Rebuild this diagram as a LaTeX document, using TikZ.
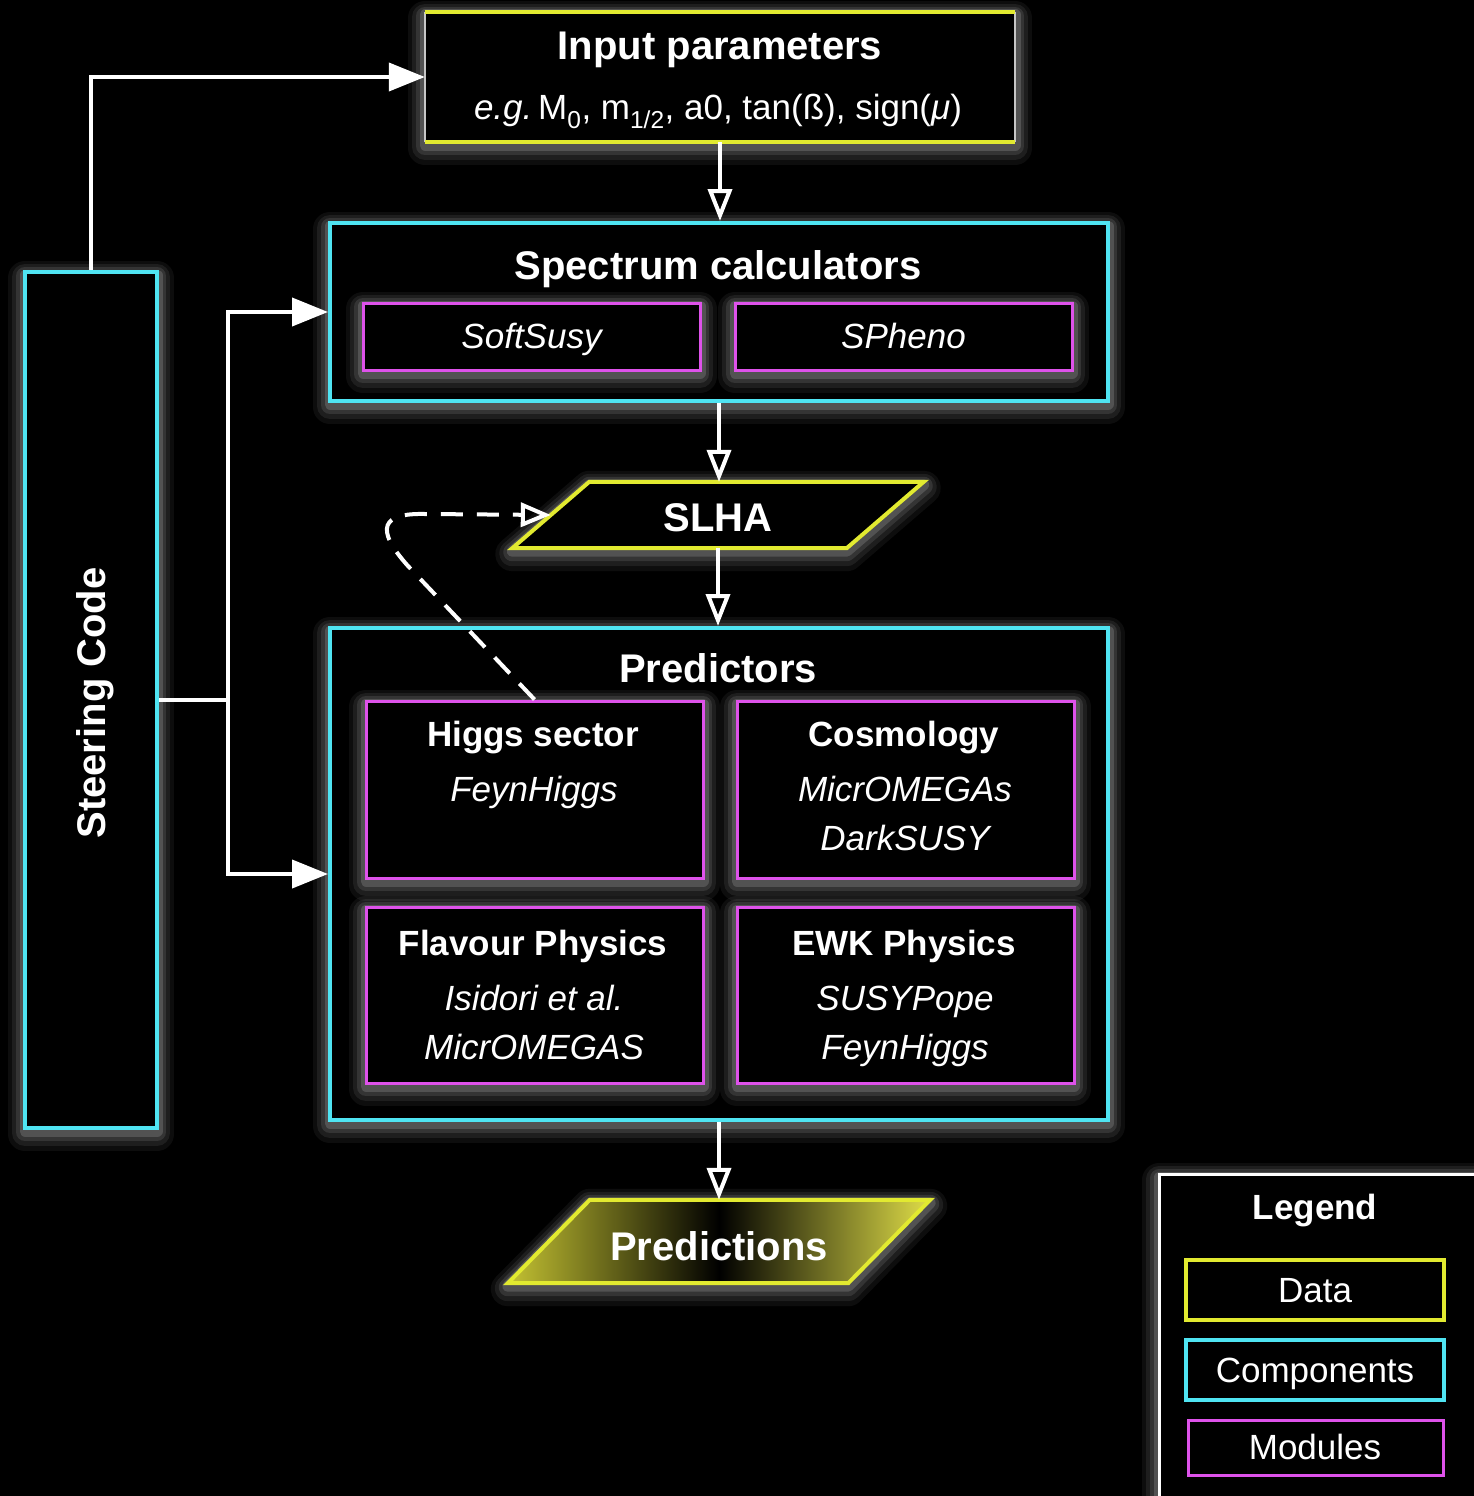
\documentclass[tikz,border=0pt]{standalone}
\usepackage{fontspec}
\setmainfont{Liberation Sans}
\usetikzlibrary{arrows.meta,calc}
\definecolor{yc}{HTML}{E2EA30}
\definecolor{cc}{HTML}{4FE4F2}
\definecolor{mc}{HTML}{DE52EA}
\definecolor{pyelL}{HTML}{C4C232}
\definecolor{pyelR}{HTML}{E0DE48}
\pgfdeclarehorizontalshading{predsh}{100bp}{color(0bp)=(pyelL); color(25bp)=(pyelL); color(50bp)=(black); color(75bp)=(pyelR); color(100bp)=(pyelR)}
\tikzset{
  glow/.style={preaction={draw=white,opacity=0.05,line width=34pt,line join=round,transform canvas={yshift=-6pt}},
               preaction={draw=white,opacity=0.07,line width=26pt,line join=round,transform canvas={yshift=-5pt}},
               preaction={draw=white,opacity=0.10,line width=18pt,line join=round,transform canvas={yshift=-4pt}},
               preaction={draw=white,opacity=0.15,line width=11pt,line join=round,transform canvas={yshift=-3pt}}},
  compbox/.style={glow, draw=cc, line width=4pt, fill=black, inner sep=0pt, rectangle},
  modbox/.style={glow, draw=mc, line width=3pt, fill=black, inner sep=0pt, rectangle},
  plainbox/.style={inner sep=0pt, rectangle},
  ttl/.style={text=white, font=\fontsize{40}{48}\selectfont\bfseries, inner sep=0pt, text height=28.6pt, text depth=0pt},
  mttl/.style={text=white, font=\fontsize{35}{42}\selectfont\bfseries, inner sep=0pt, text height=25pt, text depth=0pt},
  lbl/.style={text=white, font=\fontsize{35}{42}\selectfont, inner sep=0pt, text height=25pt, text depth=0pt},
  ilbl/.style={lbl, font=\fontsize{35}{42}\selectfont\itshape},
  flow/.style={draw=white, line width=4pt, -{Triangle[open, length=32pt, width=24pt]}},
  steer/.style={draw=white, line width=4pt, -{Triangle[length=36pt, width=28pt]}},
  wline/.style={draw=white, line width=4pt},
}
\begin{document}
\begin{tikzpicture}[x=1pt, y={(0pt,-1pt)}]
\fill[black] (0,0) rectangle (1474,1496);
\useasboundingbox (0,0) rectangle (1474,1496);
\clip (0,0) rectangle (1474,1496);

% Input parameters
\node[plainbox, glow, fill=black, minimum width=590pt, minimum height=130pt] (in) at (720,77) {};
\draw[gray!45, line width=2pt] (in.north west) -- (in.south west) (in.north east) -- (in.south east);
\draw[yc, line width=4pt] (in.north west) -- (in.north east) (in.south west) -- (in.south east);
\node[ttl] (inT) at (720,45) {Input parameters};
\node[lbl] (inL) at (718,107) {\textit{e.g.}\,M\textsubscript{0}, m\textsubscript{1/2}, a0, tan(ß), sign(\textit{μ})};

% Spectrum calculators
\node[compbox, minimum width=778pt, minimum height=178pt] (spec) at (719,312) {};
\node[ttl] (specT) at (718,265) {Spectrum calculators};
\node[modbox, minimum width=337pt, minimum height=67pt] (soft) at (531.5,336.5) {};
\node[ilbl] (softT) at (531.5,336) {SoftSusy};
\node[modbox, minimum width=337pt, minimum height=67pt] (sph) at (903.5,336.5) {};
\node[ilbl] (sphT) at (903.5,336) {SPheno};

% SLHA
\node[plainbox, minimum width=334pt, minimum height=66pt] (slha) at (718,515) {};
\path[glow, draw=yc, line width=4pt, fill=black]
  ($(slha.south west)+(-38.5,0)$) -- ($(slha.north west)+(38.5,0)$) --
  ($(slha.north east)+(38.5,0)$) -- ($(slha.south east)+(-38.5,0)$) -- cycle;
\node[ttl] (slhaT) at (718,517) {SLHA};

% Predictors
\node[compbox, minimum width=778pt, minimum height=492pt] (pred) at (719,874) {};
\node[ttl] (predT) at (718,668) {Predictors};
\node[modbox, minimum width=337pt, minimum height=177pt] (hig) at (534.5,789.5) {};
\node[modbox, minimum width=337pt, minimum height=177pt] (cos) at (905.5,789.5) {};
\node[modbox, minimum width=337pt, minimum height=176pt] (fla) at (534.5,995) {};
\node[modbox, minimum width=337pt, minimum height=176pt] (ewk) at (905.5,995) {};
\node[mttl] (higT) at (533,734) {Higgs sector};
\node[ilbl] (higA) at (534,789) {FeynHiggs};
\node[mttl] (cosT) at (904,734) {Cosmology};
\node[ilbl] (cosA) at (905,789) {MicrOMEGAs};
\node[ilbl] (cosB) at (905,838) {DarkSUSY};
\node[mttl] (flaT) at (533,943) {Flavour Physics};
\node[ilbl] (flaA) at (534,998) {Isidori et al.};
\node[ilbl] (flaB) at (534,1047) {MicrOMEGAS};
\node[mttl] (ewkT) at (904,943) {EWK Physics};
\node[ilbl] (ewkA) at (905,998) {SUSYPope};
\node[ilbl] (ewkB) at (905,1047) {FeynHiggs};

% Predictions
\node[plainbox, minimum width=340pt, minimum height=83pt] (out) at (719,1241.5) {};
\path[glow, draw=yc, line width=4pt, shading=predsh]
  ($(out.south west)+(-41,0)$) -- ($(out.north west)+(41,0)$) --
  ($(out.north east)+(41,0)$) -- ($(out.south east)+(-41,0)$) -- cycle;
\node[ttl] (outT) at (719,1246) {Predictions};

% Steering code
\node[compbox, minimum width=132pt, minimum height=856pt] (st) at (91,700) {};
\node[ttl, rotate=90] (stT) at (91,703) {Steering Code};

% Legend
\node[plainbox, glow, fill=black, draw=white, line width=2.5pt, minimum width=340pt, minimum height=340pt, anchor=north west] (leg) at (1158,1173) {};
\node[mttl] (legT) at (1315,1207) {Legend};
\node[plainbox, draw=yc, line width=4pt, minimum width=258pt, minimum height=60pt] (lgD) at (1315,1290) {};
\node[lbl] (lgDT) at (1315,1290) {Data};
\node[plainbox, draw=cc, line width=4pt, minimum width=258pt, minimum height=60pt] (lgC) at (1315,1370) {};
\node[lbl] (lgCT) at (1315,1370) {Components};
\node[plainbox, draw=mc, line width=3pt, minimum width=255pt, minimum height=55pt] (lgM) at (1315.5,1447.5) {};
\node[lbl] (lgMT) at (1315,1447) {Modules};

% Connectors
\draw[flow] (in.south) -- (in.south |- spec.north);
\draw[flow] (spec.south) -- (spec.south |- slha.north);
\draw[flow] (slha.south) -- (slha.south |- pred.north);
\draw[flow] (pred.south) -- (pred.south |- out.north);

\draw[steer] (st.north) |- (in.west);
\coordinate (br) at (228,700);
\draw[wline] (st.east) -- (br);
\draw[steer] (br) |- (spec.west);
\draw[steer] (br) |- (pred.west);

\coordinate (dA) at (408,566);
\coordinate (dB) at (374,528);
\coordinate (dC) at (382,513);
\coordinate (dD) at (425,514);
\draw[draw=white, line width=4pt, dash pattern=on 22pt off 14pt, -{Triangle[open, length=30pt, width=24pt]}]
  (hig.north) -- (dA) .. controls (dB) and (dC) .. (dD) -- (slha.west);
\end{tikzpicture}
\end{document}
